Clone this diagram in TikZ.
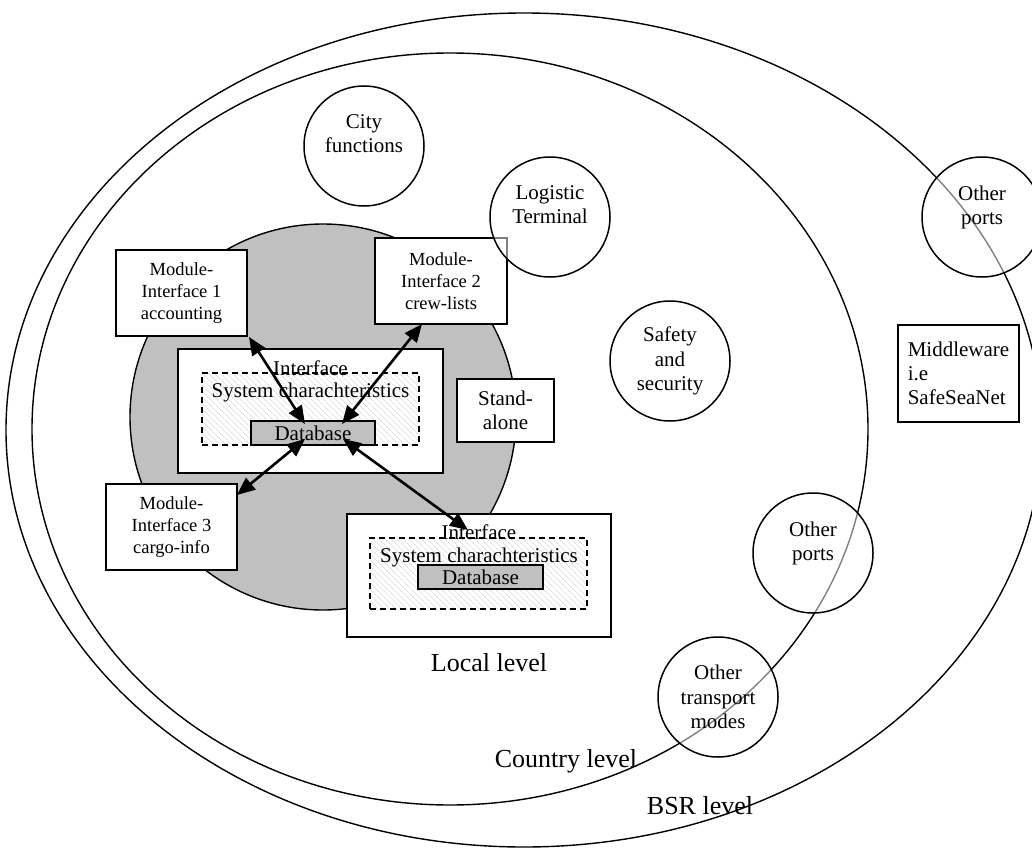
\documentclass[tikz,border=0pt]{standalone}
\usepackage{fontspec}
\setmainfont{Liberation Serif}
\usetikzlibrary{arrows.meta,patterns.meta}
\definecolor{zone}{HTML}{C0C0C0}
\begin{document}
\begin{tikzpicture}[x=1pt,y=-1pt,
  every node/.style={outer sep=0pt, inner sep=0pt},
  levelline/.style={line width=1.4pt},
  txt/.style={font=\fontsize{21}{24.2}\selectfont, align=center},
  bigtxt/.style={font=\fontsize{26}{30}\selectfont},
  boxnode/.style={draw, line width=1.5pt, fill=white, align=center, txt},
  modbox/.style={boxnode, minimum width=131pt, minimum height=86pt,
    font=\fontsize{18.5}{21.7}\selectfont},
  dashbox/.style={draw, dash pattern=on 6pt off 4pt, line width=1.5pt,
    pattern={Lines[angle=-45,distance=4pt,line width=0.5pt]}, pattern color=gray!40},
  dbbox/.style={draw, line width=1.5pt, fill=zone, txt},
  place/.style={circle, draw, line width=1.5pt, fill=white, fill opacity=0.5,
    text opacity=1, minimum size=120pt, txt},
  dbl/.style={{Triangle[length=18pt,width=15pt]}-{Triangle[length=18pt,width=15pt]},
    line width=2.6pt}
]
\useasboundingbox (0,0) rectangle (1032,848);

% BSR and country levels
\draw[levelline] (524,430) ellipse [x radius=518, y radius=417];
\draw[levelline] (450,429) ellipse [x radius=418, y radius=376];

% local level
\fill[zone] (323,417) circle [radius=193];
\draw[levelline] (323,417) circle [radius=193];

% module interfaces and stand-alone system
\node[modbox] (m1) at (181.5,293) {Module-\\Interface 1\\accounting};
\node[modbox, minimum width=132pt] (m2) at (441,281) {Module-\\Interface 2\\crew-lists};
\node[modbox] (m3) at (171.5,527) {Module-\\Interface 3\\cargo-info};
\node[boxnode, minimum width=97pt, minimum height=63pt] (sa) at (505.5,410.5) {Stand-\\alone};

% local system
\node[boxnode, minimum width=265pt, minimum height=124pt] (if1) at (310.5,411) {};
\node[dashbox, minimum width=217pt, minimum height=72pt] (ds1) at (310.5,409) {};
\node[txt] (if1t) at (310.5,368) {Interface};
\node[txt] (sc1) at (310.5,392) {System charachteristics};
\node[dbbox, minimum width=124pt, minimum height=24pt] (db1) at (313,433) {Database};

% remote system
\node[boxnode, minimum width=264pt, minimum height=123pt] (if2) at (479,575.5) {};
\node[dashbox, minimum width=217pt, minimum height=71pt] (ds2) at (478.5,573.5) {};
\node[txt] (if2t) at (479,532) {Interface};
\node[txt] (sc2) at (479,557) {System charachteristics};
\node[dbbox, minimum width=125pt, minimum height=24pt] (db2) at (480.5,577) {Database};

% middleware
\node[boxnode, align=left, minimum width=121pt, minimum height=97pt] (mw) at (958.5,373.5)
  {Middleware\\i.e\\SafeSeaNet};

% actors
\node[place] (city) at (364,146) {City\\functions\\\mbox{}};
\node[place] (logi) at (550,217) {Logistic\\Terminal\\\mbox{}};
\node[place] (op1) at (982,217) {Other\\ports\\\mbox{}};
\node[place] (safe) at (670,361) {Safety\\and\\security};
\node[place] (op2) at (813,553) {Other\\ports\\\mbox{}};
\node[place] (otm) at (718,697) {Other\\transport\\modes};

% level names
\node[bigtxt] (loc) at (489,663) {Local level};
\node[bigtxt] (cty) at (566,761) {Country level};
\node[bigtxt] (bsr) at (700,806) {BSR level};

% data exchange
\draw[dbl] ([xshift=2pt,yshift=-1pt]m1.south east) -- ([xshift=-8pt,yshift=-3pt]db1.north);
\draw[dbl] ([xshift=-19pt]m2.south) -- ([xshift=29pt,yshift=-3pt]db1.north);
\draw[dbl] ([yshift=32pt]m3.east) -- ([xshift=-8pt,yshift=6pt]db1.south);
\draw[dbl] ([xshift=30pt,yshift=6pt]db1.south) -- ([xshift=-11pt,yshift=-16pt]if2.north);
\end{tikzpicture}
\end{document}
